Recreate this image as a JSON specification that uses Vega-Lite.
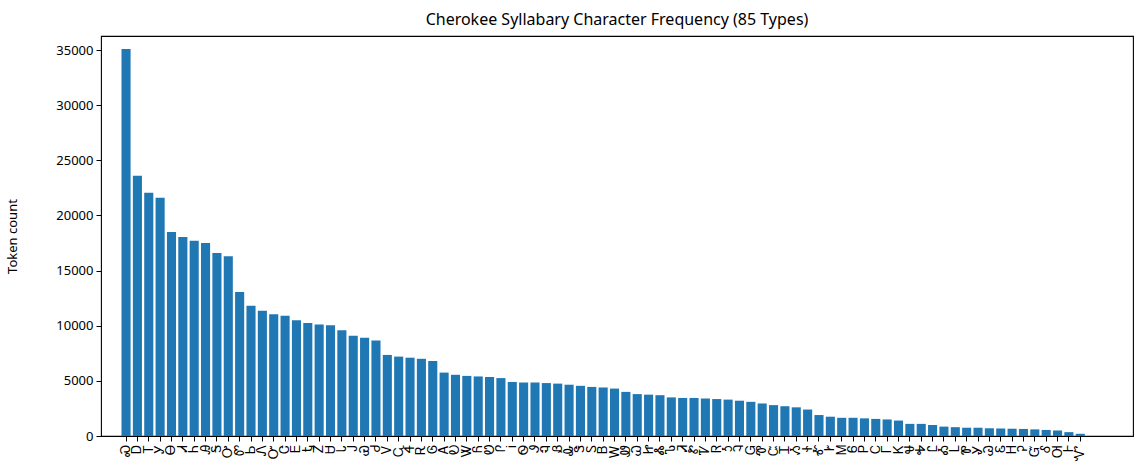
{
  "$schema": "https://vega.github.io/schema/vega-lite/v6.json",
  "width": 1032,
  "height": 400,
  "autosize": {"type": "none"},
  "padding": {"left": 101, "top": 36, "right": 9, "bottom": 34},
  "title": {"text": "Cherokee Syllabary Character Frequency (85 Types)", "fontSize": 16, "fontWeight": "normal", "font": "Noto Sans", "color": "black", "offset": 8},
  "data": {
    "values": [
      {"ch": "Ꮝ", "n": 35100}, {"ch": "Ꭰ", "n": 23600}, {"ch": "Ꭲ", "n": 22050}, {"ch": "Ꭹ", "n": 21600},
      {"ch": "Ꮎ", "n": 18500}, {"ch": "Ꮧ", "n": 18050}, {"ch": "Ꮒ", "n": 17700}, {"ch": "Ꭿ", "n": 17500},
      {"ch": "Ꭶ", "n": 16600}, {"ch": "Ꭴ", "n": 16300}, {"ch": "Ꮫ", "n": 13050}, {"ch": "Ꮟ", "n": 11800},
      {"ch": "Ꮑ", "n": 11350}, {"ch": "Ꮕ", "n": 11050}, {"ch": "Ꮳ", "n": 10900}, {"ch": "Ꭼ", "n": 10500},
      {"ch": "Ꮏ", "n": 10250}, {"ch": "Ꮓ", "n": 10100}, {"ch": "Ꮜ", "n": 10050}, {"ch": "Ꮣ", "n": 9600},
      {"ch": "Ꭻ", "n": 9100}, {"ch": "Ꮿ", "n": 8900}, {"ch": "Ꮷ", "n": 8650}, {"ch": "Ꮩ", "n": 7350},
      {"ch": "Ꮹ", "n": 7200}, {"ch": "Ꮞ", "n": 7100}, {"ch": "Ꭱ", "n": 7000}, {"ch": "Ꮆ", "n": 6800},
      {"ch": "Ꭺ", "n": 5750}, {"ch": "Ꭷ", "n": 5550}, {"ch": "Ꮤ", "n": 5450}, {"ch": "Ᏺ", "n": 5400},
      {"ch": "Ꮼ", "n": 5350}, {"ch": "Ꮅ", "n": 5250}, {"ch": "Ꭵ", "n": 4900}, {"ch": "Ꮻ", "n": 4850},
      {"ch": "Ꮽ", "n": 4850}, {"ch": "Ꮔ", "n": 4800}, {"ch": "Ᏸ", "n": 4750}, {"ch": "Ꮂ", "n": 4650},
      {"ch": "Ꮥ", "n": 4550}, {"ch": "Ꮪ", "n": 4450}, {"ch": "Ᏼ", "n": 4400}, {"ch": "Ꮃ", "n": 4300},
      {"ch": "Ꮺ", "n": 4000}, {"ch": "Ꮗ", "n": 3800}, {"ch": "Ꮵ", "n": 3750}, {"ch": "Ꮬ", "n": 3700},
      {"ch": "Ꮦ", "n": 3500}, {"ch": "Ꮨ", "n": 3450}, {"ch": "Ꮡ", "n": 3450}, {"ch": "Ꮴ", "n": 3400},
      {"ch": "Ꮢ", "n": 3350}, {"ch": "Ꮌ", "n": 3300}, {"ch": "Ꮈ", "n": 3200}, {"ch": "Ꮐ", "n": 3100},
      {"ch": "Ꮱ", "n": 2950}, {"ch": "Ꮸ", "n": 2800}, {"ch": "Ꮖ", "n": 2700}, {"ch": "Ᏹ", "n": 2600},
      {"ch": "Ꮠ", "n": 2400}, {"ch": "Ꮉ", "n": 1900}, {"ch": "Ꭸ", "n": 1750}, {"ch": "Ꮇ", "n": 1650},
      {"ch": "Ꮾ", "n": 1650}, {"ch": "Ꮲ", "n": 1600}, {"ch": "Ꮯ", "n": 1550}, {"ch": "Ꮁ", "n": 1500},
      {"ch": "Ꮶ", "n": 1400}, {"ch": "Ꮰ", "n": 1100}, {"ch": "Ꭽ", "n": 1100}, {"ch": "Ꮭ", "n": 1000},
      {"ch": "Ꭳ", "n": 850}, {"ch": "Ꮮ", "n": 800}, {"ch": "Ꮘ", "n": 750}, {"ch": "Ꮍ", "n": 750},
      {"ch": "Ꮚ", "n": 700}, {"ch": "Ꮛ", "n": 680}, {"ch": "Ꮋ", "n": 660}, {"ch": "Ꭾ", "n": 640},
      {"ch": "Ᏻ", "n": 600}, {"ch": "Ꮄ", "n": 550}, {"ch": "Ꮊ", "n": 500}, {"ch": "Ꮀ", "n": 350},
      {"ch": "Ꮙ", "n": 200}
    ]
  },
  "mark": {"type": "bar", "color": "#1f77b4"},
  "encoding": {
    "x": {
      "field": "ch",
      "type": "nominal",
      "sort": null,
      "title": null,
      "scale": {"paddingInner": 0.2, "paddingOuter": 0, "range": [20.5, 983.8]},
      "axis": {"labelAngle": -90, "labelFontSize": 13, "labelPadding": 3, "tickSize": 5, "tickColor": "black", "domain": false, "labelColor": "black"}
    },
    "y": {
      "field": "n",
      "type": "quantitative",
      "title": "Token count",
      "scale": {"domain": [0, 36270], "nice": false},
      "axis": {"values": [0, 5000, 10000, 15000, 20000, 25000, 30000, 35000], "format": "d", "grid": false, "labelFontSize": 13, "labelPadding": 3, "tickSize": 5, "tickColor": "black", "domain": false, "labelColor": "black", "titleFontSize": 13, "titleFontWeight": "normal", "titleColor": "black", "titlePadding": 36}
    }
  },
  "config": {
    "font": "Noto Sans",
    "view": {"stroke": "black", "strokeWidth": 1.1},
    "axis": {"labelFont": "Noto Sans", "titleFont": "Noto Sans"}
  }
}
